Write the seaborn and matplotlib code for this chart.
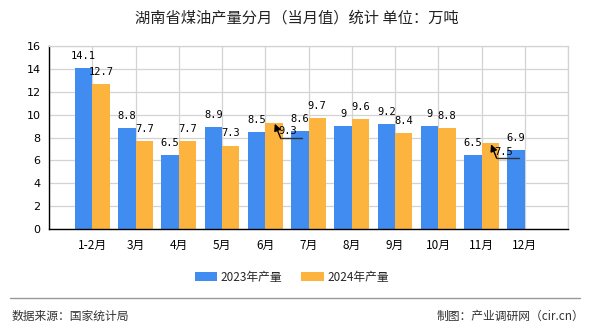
import matplotlib
matplotlib.use("Agg")
import matplotlib.pyplot as plt
from matplotlib.patches import Patch
import seaborn as sns
import pandas as pd
import numpy as np

months = ["1-2月", "3月", "4月", "5月", "6月", "7月", "8月", "9月", "10月", "11月", "12月"]
output_2023 = [14.1, 8.8, 6.5, 8.9, 8.5, 8.6, 9, 9.2, 9, 6.5, 6.9]
output_2024 = [12.7, 7.7, 7.7, 7.3, 9.3, 9.7, 9.6, 8.4, 8.8, 7.5, np.nan]
series_names = ["2023年产量", "2024年产量"]
colors = ["#418CF0", "#FCB43F"]
y_ticks = [0, 2, 4, 6, 8, 10, 12, 14, 16]

sns.set_theme(style="white")
plt.rcParams["font.family"] = ["Noto Sans CJK SC", "DejaVu Sans"]
plt.rcParams["axes.unicode_minus"] = False

df = pd.DataFrame({
    "month": months * 2,
    "value": output_2023 + output_2024,
    "series": [series_names[0]] * len(months) + [series_names[1]] * len(months),
})

fig = plt.figure(figsize=(5.9, 3.3), dpi=100)
ax = fig.add_axes([49 / 590, 1 - 229 / 330, (568 - 49) / 590, (229 - 46) / 330])

sns.barplot(data=df, x="month", y="value", hue="series", order=months,
            hue_order=series_names, palette=colors, width=0.8, saturation=1,
            legend=False, ax=ax, zorder=2, linewidth=0)

ax.set_xlim(-1, len(months))
ax.set_ylim(0, 16)
ax.set_yticks(y_ticks)
ax.set_yticklabels([str(t) for t in y_ticks], fontsize=8, family="DejaVu Sans")
ax.set_xticks(np.arange(-1, len(months) + 1))
ax.set_xticklabels([""] + months + [""], fontsize=8.5)
ax.set_xlabel("")
ax.set_ylabel("")
ax.grid(True, color="#d3d3d3", linewidth=0.9, zorder=0)
ax.set_axisbelow(True)
for side in ["top", "right"]:
    ax.spines[side].set_color("#d3d3d3")
    ax.spines[side].set_linewidth(0.9)
for side in ["left", "bottom"]:
    ax.spines[side].set_color("black")
    ax.spines[side].set_linewidth(1.0)
ax.tick_params(axis="both", which="both", length=4, width=0.9, color="black",
               direction="out", pad=2, labelcolor="black")
ax.tick_params(axis="x", pad=3)

# value labels above each bar
label_font = dict(fontsize=7.5, family="DejaVu Sans Mono", color="black")
shifted = {(1, 4), (1, 9)}  # labels moved aside with a leader line
for s, vals in enumerate([output_2023, output_2024]):
    for i, v in enumerate(vals):
        if np.isnan(v):
            continue
        cx = i - 0.2 + 0.4 * s
        txt = f"{v:g}"
        if (s, i) in shifted:
            tip = (cx + 0.02, v - 0.1)
            corner = (cx + 0.15, v - 1.3)
            end = (cx + 0.66, v - 1.3)
            ax.plot([corner[0], end[0]], [corner[1], end[1]], color="#333333",
                    lw=1.0, zorder=4)
            ax.annotate("", xy=tip, xytext=corner,
                        arrowprops=dict(arrowstyle="-|>", color="black", lw=1.0,
                                        mutation_scale=10, shrinkA=0, shrinkB=0),
                        zorder=4)
            ax.text(cx + 0.31, v - 0.75, txt, ha="center", va="center",
                    zorder=5, **label_font)
        else:
            ax.annotate(txt, xy=(cx, v), xytext=(0, 6.5), textcoords="offset points",
                        ha="center", va="baseline", zorder=5, **label_font)

fig.text(0.503, 1 - 18 / 330, "湖南省煤油产量分月（当月值）统计 单位：万吨",
         ha="center", va="center", fontsize=11, color="#222222")

handles = [Patch(facecolor=c, edgecolor="none") for c in colors]
fig.legend(handles, series_names, loc="center", bbox_to_anchor=(0.495, 1 - 277 / 330),
           ncol=2, frameon=False, fontsize=8.5, handlelength=1.9, handleheight=0.85,
           handletextpad=0.3, columnspacing=1.6)

fig.add_artist(plt.Line2D([10 / 590, 580 / 590], [1 - 298 / 330] * 2,
                          color="#999999", lw=1.0))
fig.text(12 / 590, 1 - 316 / 330, "数据来源：国家统计局", ha="left", va="center",
         fontsize=8.5, color="#333333")
fig.text(584 / 590, 1 - 316 / 330, "制图：产业调研网（cir.cn）", ha="right", va="center",
         fontsize=8.5, color="#333333")

fig.savefig("out.png", dpi=100)
